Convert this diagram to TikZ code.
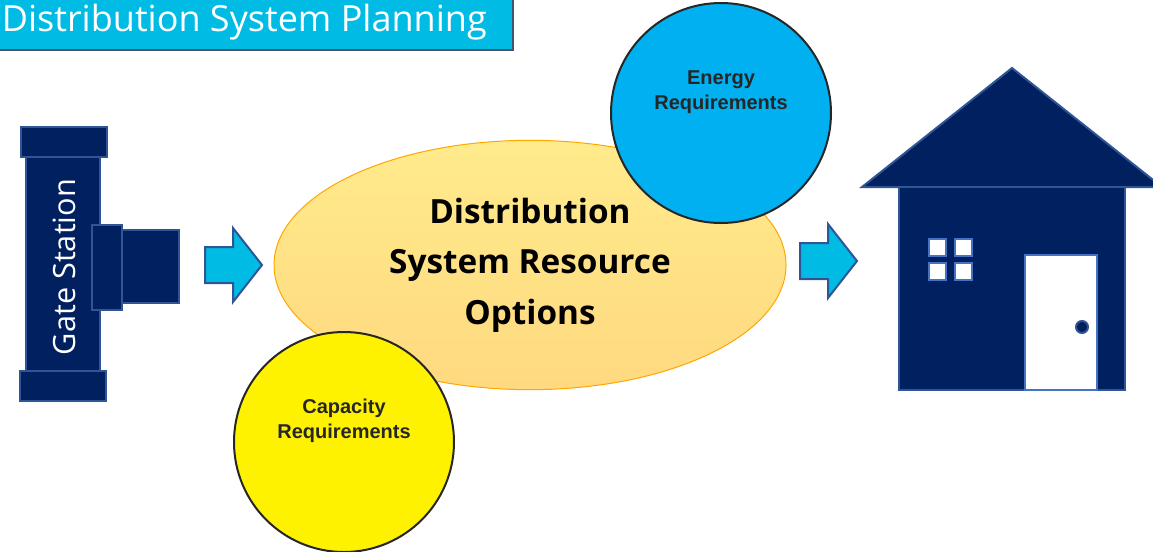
\documentclass[tikz,border=0pt]{standalone}
\usepackage{fontspec}
\setmainfont{Open Sans}
\newfontfamily\labelfont{Liberation Sans}
\usetikzlibrary{calc}
\usetikzlibrary{shapes}
\definecolor{navyfill}{HTML}{002060}
\definecolor{navyline}{HTML}{2F5597}
\definecolor{doorline}{HTML}{4472C4}
\definecolor{titlecyan}{HTML}{00BBE3}
\definecolor{energyblue}{HTML}{00B0F0}
\definecolor{titleline}{HTML}{44546A}
\tikzset{
    navypart/.style={fill=navyfill, draw=navyline, line width=1.5pt},
    windowpane/.style={fill=white, draw=doorline, line width=1.5pt},
    reqcircle/.style={circle, draw=black!85, line width=1.5pt, minimum size=165pt, inner sep=0pt, align=center, font=\labelfont\fontsize{15}{18.5}\selectfont\bfseries, text=black!85},
}
\newcommand{\createarrow}[2]{\fill[titlecyan, draw=navyline, line width=1.5pt] ( #1 , #2 -18 ) -- ( #1 +28 , #2 -18 ) -- ( #1 +28 , #2 -37 ) -- ( #1 +57 , #2 ) -- ( #1 +28 , #2 +37 ) -- ( #1 +28 , #2 +18 ) -- ( #1 , #2 +18 ) -- cycle;}
\begin{document}
\begin{tikzpicture}[x=0.75pt,y=-0.75pt]
        \useasboundingbox (0,0) rectangle (1153,551);
        \clip (0,0) rectangle (1153,551);
        %title
        \draw[fill=titlecyan, draw=titleline, line width=1.5pt] (-300,-30) rectangle (513,50);
        \node[anchor=base east, text=white, font=\fontsize{27}{32}\selectfont, inner sep=0pt] (title) at (487,31) {Distribution System Planning};
        %gate station
        \draw[navypart] (26,157) rectangle (100,371);
        \draw[navypart] (21,127) rectangle (107,157);
        \draw[navypart] (20,371) rectangle (106,401);
        \draw[navypart] (122,230) rectangle (179,303);
        \draw[navypart] (92,225) rectangle (122,310);
        \node[rotate=90, text=white, font=\fontsize{23}{28}\selectfont, inner sep=0pt] (gate) at (64,267) {Gate Station};
        %arrows
        \createarrow{205}{265}
        \createarrow{800}{261}
        %options
        \node[ellipse, top color=orange!35!yellow!45, bottom color=orange!60!yellow!50, draw=orange!70!yellow, line width=0.75pt, minimum width=384pt, minimum height=187pt, inner sep=0pt, align=center, font=\fontsize{25}{38}\selectfont\bfseries, text=black] (options) at (530,265) {Distribution\\System Resource\\Options};
        \node[reqcircle, fill=energyblue] (energy) at (721,113) {Energy\\Requirements\\[16pt]};
        \node[reqcircle, fill=yellow] (capacity) at (344,442) {Capacity\\Requirements\\[16pt]};
        %house
        \draw[navypart] (1012,68) -- (1162,187) -- (862,187) -- cycle;
        \draw[navypart] (899,187) rectangle (1125,390);
        \foreach \x in {929,955} {
        \foreach \y in {239,263} {
        \draw[windowpane] (\x,\y) rectangle (\x+17,\y+17);}}
        \draw[windowpane] (1025,255) rectangle (1097,390);
        \draw[navypart] (1082,327) circle (6);
\end{tikzpicture}
\end{document}
